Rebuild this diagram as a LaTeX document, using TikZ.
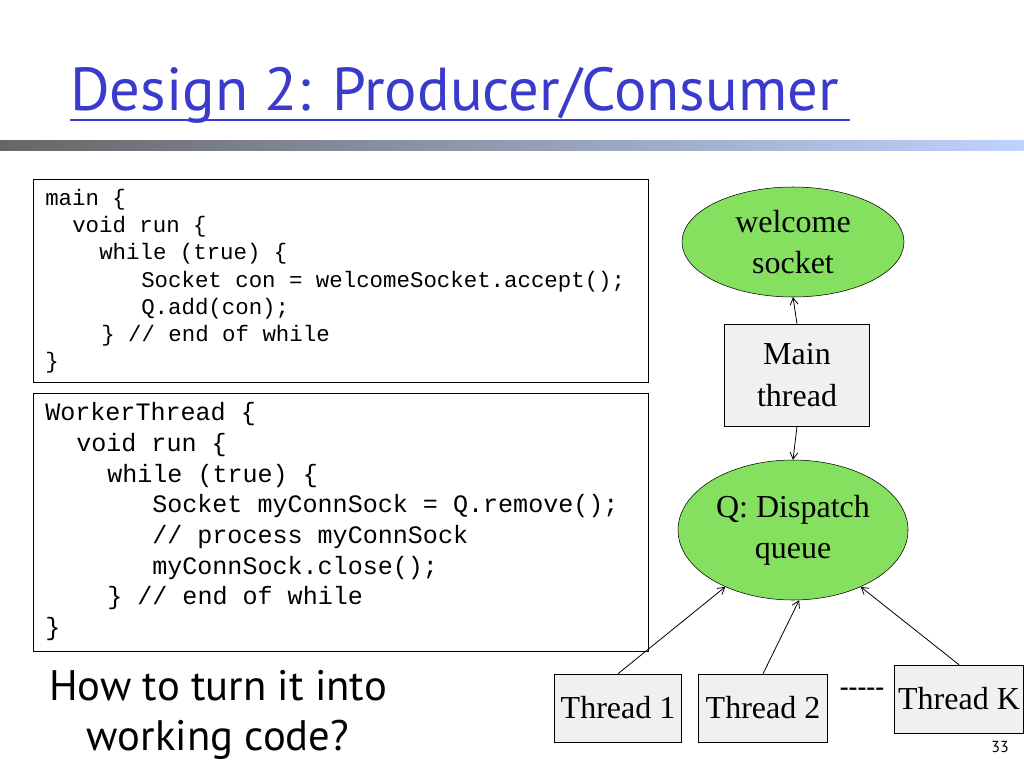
\documentclass[tikz,border=0pt]{standalone}
\usepackage{fontspec}
\setmainfont{Liberation Serif}
\newfontfamily\ttf{Liberation Mono}
\newfontfamily\sans{PT Sans}
\usetikzlibrary{shapes.geometric,arrows.meta}
\definecolor{tblue}{HTML}{3A3ACC}
\definecolor{ngreen}{HTML}{86E060}
\definecolor{bgray}{HTML}{F0F0F0}
\begin{document}
\begin{tikzpicture}[x=0.75pt,y=-0.75pt,
  ell/.style={ellipse,draw,fill=ngreen,minimum width=222*0.75pt,align=center,font=\fontsize{24}{31}\selectfont},
  box/.style={draw,fill=bgray,align=center,font=\fontsize{24}{31}\selectfont,inner sep=1pt},
  arr/.style={-{Straight Barb[length=5pt,width=6pt]},line width=0.6pt},
  code1/.style={anchor=base west,inner sep=0,font=\ttf\fontsize{16.8}{20}\selectfont},
  code2/.style={anchor=base west,inner sep=0,font=\ttf\fontsize{18.8}{22}\selectfont}]
\useasboundingbox (0,0) rectangle (1024,768);
\fill[white] (0,0) rectangle (1024,768);
% title
\node[anchor=base west,text=tblue,font=\sans\fontsize{45.5}{52}\selectfont,inner sep=0] (title) at (70,110) {Design 2: Producer/Consumer};
\draw[tblue,line width=1pt] (70,120) -- (850,120);
\shade[left color=gray!80!black,right color=cyan!30!blue!25] (0,140) rectangle (1024,150);
% code box 1
\node[draw,minimum width=615*0.75pt,minimum height=203*0.75pt,anchor=north west] (c1) at (33,179) {};
\node[code1] at (45,205) {main \{};
\node[code1] at (72,232) {void run \{};
\node[code1] at (99,259) {while (true) \{};
\node[code1] at (141,287) {Socket con = welcomeSocket.accept();};
\node[code1] at (141,314) {Q.add(con);};
\node[code1] at (101,341) {\} // end of while};
\node[code1] at (45,368) {\}};
% code box 2
\node[draw,minimum width=615*0.75pt,minimum height=258*0.75pt,anchor=north west] (c2) at (33,393) {};
\node[code2] at (45,420) {WorkerThread \{};
\node[code2] at (76,451) {void run \{};
\node[code2] at (107,482) {while (true) \{};
\node[code2] at (152,512) {Socket myConnSock = Q.remove();};
\node[code2] at (152,543) {// process myConnSock};
\node[code2] at (152,574) {myConnSock.close();};
\node[code2] at (107,604) {\} // end of while};
\node[code2] at (45,635) {\}};
% diagram
\node[ell,minimum height=110*0.75pt] (ws) at (793,242) {welcome\\socket};
\node[box,minimum width=145*0.75pt,minimum height=102*0.75pt] (mt) at (797,375) {Main\\thread};
\node[ell,minimum height=140*0.75pt] (q) at (793,530) {Q: Dispatch\\queue};
\node[box,minimum width=127*0.75pt,minimum height=68*0.75pt] (t1) at (618,708) {Thread 1};
\node[box,minimum width=129*0.75pt,minimum height=68*0.75pt] (t2) at (763,708) {Thread 2};
\node[box,minimum width=129*0.75pt,minimum height=68*0.75pt] (tk) at (959,699) {Thread K};
\node[font=\fontsize{20}{20}\selectfont\bfseries,inner sep=0] (dash) at (862,692) {-{}-{}-{}-{}-};
\draw[arr] (mt.north) -- (ws.south);
\draw[arr] (mt.south) -- (q.north);
\draw[arr] (t1.north) -- (q.-140);
\draw[arr] (t2.north) -- (q.-85);
\draw[arr] (tk.north) -- (q.-40);
% question
\node[align=center,font=\sans\fontsize{32}{38}\selectfont] (qq) at (218,715) {How to turn it into\\working code?};
\node[font=\sans\fontsize{12}{14}\selectfont] (pg) at (1000,747) {33};
\end{tikzpicture}
\end{document}
